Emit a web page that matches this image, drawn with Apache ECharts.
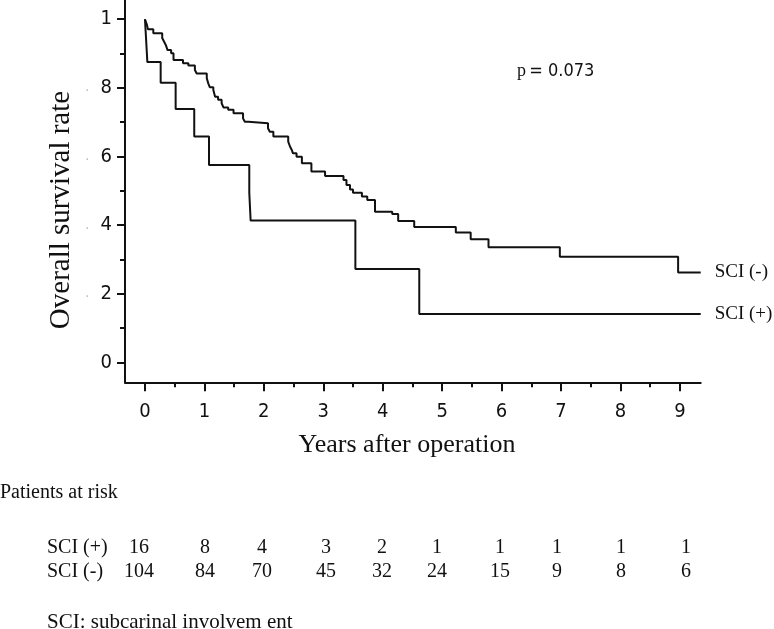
<!DOCTYPE html>
<html><head><meta charset="utf-8">
<script src="https://cdn.jsdelivr.net/npm/echarts@6/dist/echarts.min.js"></script>
<style>html,body{margin:0;padding:0;background:#fff}#c{width:774px;height:629px}</style>
</head><body><div id="c"></div>
<script>
// ---- data ----
const xTicks = [0, 1, 2, 3, 4, 5, 6, 7, 8, 9];
const xMinorTicks = [0.5, 1.5, 2.5, 3.5, 4.5, 5.5, 6.5, 7.5, 8.5];
const yTicks = [0, 0.2, 0.4, 0.6, 0.8, 1];
const yMinorTicks = [0.1, 0.3, 0.5, 0.7, 0.9];

const negName = 'SCI (-)';
const negTime = [0, 0.03, 0.05, 0.14, 0.29, 0.32, 0.35, 0.38, 0.44, 0.48, 0.64, 0.73, 0.84, 0.87,
  1.04, 1.065, 1.09, 1.15, 1.18, 1.23, 1.29, 1.32, 1.40, 1.49, 1.65, 1.68, 1.74,
  2.07, 2.10, 2.16, 2.41, 2.44, 2.47, 2.49, 2.55, 2.64, 2.80,
  3.03, 3.34, 3.39, 3.45, 3.50, 3.65, 3.74, 3.87,
  4.16, 4.26, 4.53, 5.23, 5.48, 5.78, 6.98, 8.97, 9.35];
const negSurv = [1, 0.985, 0.971, 0.959, 0.945, 0.935, 0.925, 0.910, 0.901, 0.881, 0.872, 0.865, 0.852, 0.842,
  0.828, 0.813, 0.802, 0.794, 0.774, 0.765, 0.755, 0.743, 0.736, 0.726, 0.711, 0.701, 0.697,
  0.682, 0.672, 0.658, 0.643, 0.629, 0.619, 0.609, 0.599, 0.580, 0.556,
  0.543, 0.531, 0.517, 0.504, 0.494, 0.483, 0.473, 0.439,
  0.432, 0.412, 0.394, 0.378, 0.359, 0.335, 0.308, 0.262, 0.262];

const posName = 'SCI (+)';
const posTime = [0, 0.02, 0.04, 0.264, 0.516, 0.829, 1.077, 1.755, 1.778, 3.54, 4.615, 9.35];
const posSurv = [1, 0.9375, 0.875, 0.815, 0.738, 0.658, 0.575, 0.494, 0.413, 0.272, 0.141, 0.141];

const riskTitle = 'Patients at risk';
const riskRows = ['SCI (+)', 'SCI (-)'];
const riskPos = [16, 8, 4, 3, 2, 1, 1, 1, 1, 1];
const riskNeg = [104, 84, 70, 45, 32, 24, 15, 9, 8, 6];
const footnote = 'SCI: subcarinal involvem ent';
const pText = ['p', '= 0.073'];
const xTitle = 'Years after operation';
const yTitle = 'Overall survival rate';

// ---- layout / style ----
const INK = '#111';
const NARROW = '"Liberation Sans Narrow", "DejaVu Sans Condensed", "Liberation Sans", sans-serif';
const SERIF = '"Liberation Serif", "DejaVu Serif", serif';
const colX = [139, 205, 262, 326, 382, 437, 500, 557, 621, 686];
const rowY = [548, 572];

const chart = echarts.init(document.getElementById('c'), null, {renderer: 'canvas'});

function zip(t, s) { return t.map((v, i) => [v, s[i]]); }

const graphics = [
  {type: 'text', x: 61, y: 210, rotation: Math.PI / 2,
   style: {text: yTitle, font: '29px ' + SERIF, fill: INK, align: 'center', verticalAlign: 'middle'}},
  {type: 'text', x: 407, y: 445,
   style: {text: xTitle, font: '26px ' + SERIF, fill: INK, align: 'center', verticalAlign: 'middle'}},
  {type: 'text', x: 517, y: 71,
   style: {text: '{a|' + pText[0] + '} {b|' + pText[1] + '}', fill: INK, verticalAlign: 'middle', align: 'left',
     rich: {a: {font: '18px ' + SERIF, fill: INK}, b: {font: '18px ' + NARROW, fill: INK}}}},
  {type: 'text', x: 0, y: 493,
   style: {text: riskTitle, font: '20px ' + SERIF, fill: INK, align: 'left', verticalAlign: 'middle'}},
  {type: 'text', x: 47, y: 622,
   style: {text: footnote, font: '21px ' + SERIF, fill: INK, align: 'left', verticalAlign: 'middle'}}
];
[riskPos, riskNeg].forEach((row, r) => {
  graphics.push({type: 'text', x: 47, y: rowY[r],
    style: {text: riskRows[r], font: '20px ' + SERIF, fill: INK, align: 'left', verticalAlign: 'middle'}});
  row.forEach((v, i) => {
    graphics.push({type: 'text', x: colX[i], y: rowY[r],
      style: {text: String(v), font: '20px ' + SERIF, fill: INK, align: 'center', verticalAlign: 'middle'}});
  });
});

const axisLine = {show: true, onZero: false, lineStyle: {color: INK, width: 2}};
const option = {
  backgroundColor: '#fff',
  animation: false,
  grid: {left: 125, top: 0, width: 575.7, height: 382.3, containLabel: false},
  xAxis: [
    {type: 'value', min: -0.336, max: 9.35, position: 'bottom',
     axisLine: axisLine,
     axisTick: {show: true, customValues: xTicks, length: 9, lineStyle: {color: INK, width: 2}},
     axisLabel: {show: true, customValues: xTicks, margin: 19, color: INK, fontSize: 20, fontFamily: NARROW},
     splitLine: {show: false}},
    {type: 'value', min: -0.336, max: 9.35, position: 'bottom',
     axisLine: {show: false, onZero: false},
     axisTick: {show: true, customValues: xMinorTicks, length: 5, lineStyle: {color: INK, width: 2}},
     axisLabel: {show: false}, splitLine: {show: false}}
  ],
  yAxis: [
    {type: 'value', min: -0.0583, max: 1.056, position: 'left',
     axisLine: axisLine,
     axisTick: {show: true, customValues: yTicks, length: 8, lineStyle: {color: INK, width: 2}},
     axisLabel: {show: true, customValues: yTicks, margin: 13, color: INK, fontSize: 20, fontFamily: NARROW,
       formatter: v => (v === 0 || v === 1) ? String(v) : '{d|.}  {n|' + Math.round(v * 10) + '}',
       rich: {d: {color: '#bbb', fontSize: 14, fontFamily: NARROW}, n: {color: INK, fontSize: 20, fontFamily: NARROW}}},
     splitLine: {show: false}},
    {type: 'value', min: -0.0583, max: 1.056, position: 'left',
     axisLine: {show: false, onZero: false},
     axisTick: {show: true, customValues: yMinorTicks, length: 5, lineStyle: {color: INK, width: 2}},
     axisLabel: {show: false}, splitLine: {show: false}}
  ],
  series: [
    {name: negName, type: 'line', step: 'end', showSymbol: false, data: zip(negTime, negSurv),
     lineStyle: {color: INK, width: 2}, itemStyle: {color: INK},
     endLabel: {show: true, formatter: '{a}', distance: 14, color: INK, fontSize: 19, fontFamily: SERIF}},
    {name: posName, type: 'line', step: 'end', showSymbol: false, data: zip(posTime, posSurv),
     lineStyle: {color: INK, width: 2}, itemStyle: {color: INK},
     endLabel: {show: true, formatter: '{a}', distance: 14, color: INK, fontSize: 19, fontFamily: SERIF}}
  ],
  graphic: graphics
};
chart.setOption(option);
</script>
</body></html>
